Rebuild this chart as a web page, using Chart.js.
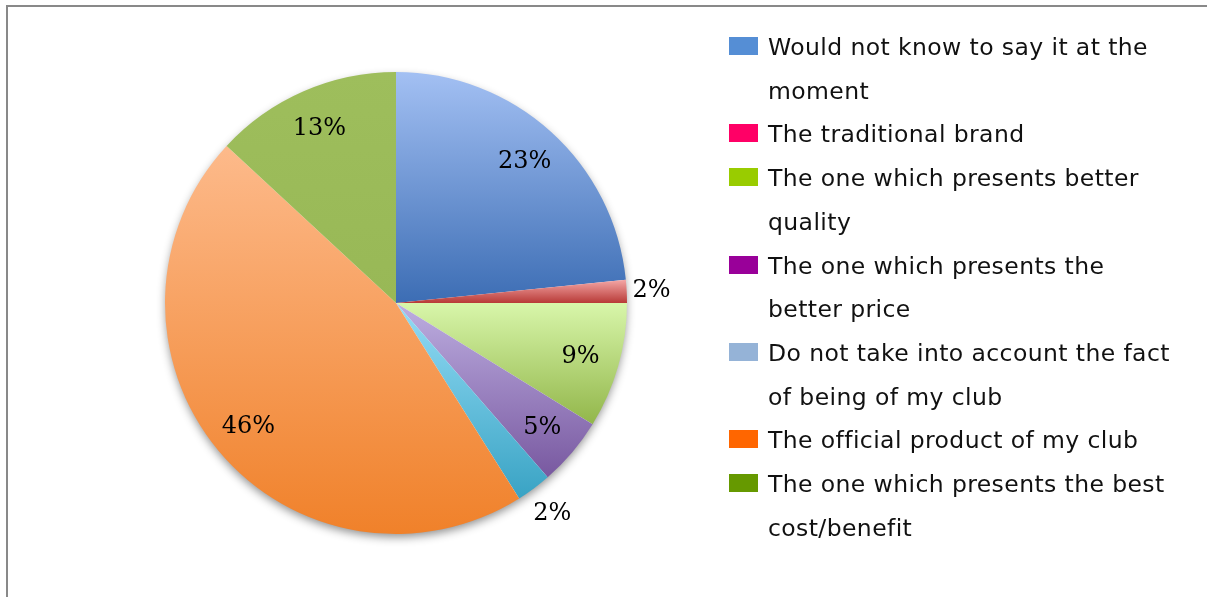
<!DOCTYPE html>
<html>
<head>
<meta charset="utf-8">
<script src="https://cdn.jsdelivr.net/npm/chart.js@4.4.1/dist/chart.umd.min.js"></script>
<style>
  html, body { margin: 0; padding: 0; background: #fff; }
  body { width: 1207px; height: 597px; position: relative; overflow: hidden; }
  #frame { position: absolute; left: 6px; top: 5px; width: 1300px; height: 700px; border-left: 2px solid #898989; border-top: 2px solid #898989; box-sizing: border-box; }
  #wrap { position: absolute; left: 0; top: 0; width: 1207px; height: 597px; }
  #legend { position: absolute; left: 729px; top: 26px; font-family: "DejaVu Sans", Verdana, sans-serif; font-size: 23.5px; letter-spacing: 0.4px; line-height: 43.7px; color: #111; white-space: nowrap; }
  .item { display: flex; align-items: flex-start; }
  .box { width: 29px; height: 18px; margin-top: 11px; margin-right: 10px; flex: none; }
</style>
</head>
<body>
<div id="frame"></div>
<div id="wrap"><canvas id="c" width="1207" height="597"></canvas></div>
<div id="legend"></div>
<script>
const categories = [
  ["Would not know to say it at the", "moment"],
  ["The traditional brand"],
  ["The one which presents better", "quality"],
  ["The one which presents the", "better price"],
  ["Do not take into account the fact", "of being of my club"],
  ["The official product of my club"],
  ["The one which presents the best", "cost/benefit"]
];
// shares read from the slice boundaries (labels show them rounded)
const values = [23.4, 1.6, 8.8, 4.8, 2.45, 45.85, 13.1];
const legendColors = ["#558ed5", "#ff0066", "#99cc00", "#990099", "#95b3d7", "#ff6600", "#669900"];
const sliceTopColors = ["#a3c0f3", "#f4a7a6", "#d8f6aa", "#bdaee0", "#94dcf5", "#fdba8b", "#9ebe5c"];
const sliceBottomColors = ["#3c6db4", "#b83a37", "#92b64a", "#7858a0", "#39a3c4", "#f0812a", "#98b856"];

// HTML legend
const legendEl = document.getElementById('legend');
categories.forEach((lines, i) => {
  const item = document.createElement('div');
  item.className = 'item';
  const box = document.createElement('div');
  box.className = 'box';
  box.style.background = legendColors[i];
  const txt = document.createElement('div');
  txt.innerHTML = lines.map(l => l.replace(/&/g, '&amp;').replace(/</g, '&lt;')).join('<br>');
  item.appendChild(box);
  item.appendChild(txt);
  legendEl.appendChild(item);
});

function sliceGradient(ctx) {
  const chart = ctx.chart;
  const i = ctx.dataIndex;
  const ca = chart.chartArea;
  if (!ca || i === undefined) return sliceTopColors[i] || '#ccc';
  const cx = (ca.left + ca.right) / 2, cy = (ca.top + ca.bottom) / 2;
  const r = Math.min(ca.right - ca.left, ca.bottom - ca.top) / 2;
  const total = values.reduce((a, b) => a + b, 0);
  let cum = 0;
  for (let k = 0; k < i; k++) cum += values[k];
  const a0 = cum / total * 2 * Math.PI, a1 = (cum + values[i]) / total * 2 * Math.PI;
  let ys = [cy, cy - r * Math.cos(a0), cy - r * Math.cos(a1)];
  if (a0 <= 0) ys.push(cy - r);
  if (a0 <= Math.PI && a1 >= Math.PI) ys.push(cy + r);
  const y0 = Math.min(...ys), y1 = Math.max(...ys);
  const g = chart.ctx.createLinearGradient(0, y0, 0, y1);
  g.addColorStop(0, sliceTopColors[i]);
  g.addColorStop(1, sliceBottomColors[i]);
  return g;
}

const shadowPlugin = {
  id: 'pieShadow',
  beforeDatasetsDraw(chart) {
    const arc = chart.getDatasetMeta(0).data[0];
    if (!arc) return;
    const c = chart.ctx;
    c.save();
    c.shadowColor = 'rgba(0,0,0,0.45)';
    c.shadowBlur = 10;
    c.shadowOffsetY = 4;
    c.beginPath();
    c.arc(arc.x, arc.y, arc.outerRadius - 1, 0, Math.PI * 2);
    c.fillStyle = '#ffffff';
    c.fill();
    c.restore();
  }
};

const labelPlugin = {
  id: 'pctLabels',
  afterDatasetsDraw(chart) {
    const meta = chart.getDatasetMeta(0);
    const c = chart.ctx;
    const total = values.reduce((a, b) => a + b, 0);
    c.save();
    c.font = '24px "DejaVu Serif", "Liberation Serif", serif';
    c.fillStyle = '#000';
    c.textAlign = 'center';
    c.textBaseline = 'middle';
    meta.data.forEach((arc, i) => {
      const mid = (arc.startAngle + arc.endAngle) / 2;
      const dx = Math.cos(mid), dy = Math.sin(mid);
      const text = Math.round(values[i] / total * 100) + '%';
      let x, y;
      if (values[i] / total < 0.03) {
        const w = c.measureText(text).width;
        const hw = w / 2, hh = 10;
        const d = arc.outerRadius + 5 + 8 * Math.abs(dy) + hw * Math.abs(dx) + hh * Math.abs(dy);
        x = arc.x + dx * d; y = arc.y + dy * d;
      } else {
        const d = arc.outerRadius * 0.83;
        x = arc.x + dx * d; y = arc.y + dy * d;
      }
      c.fillText(text, x, y + 1);
    });
    c.restore();
  }
};

new Chart(document.getElementById('c'), {
  type: 'pie',
  data: {
    labels: categories,
    datasets: [{
      data: values,
      backgroundColor: sliceGradient,
      borderWidth: 0
    }]
  },
  options: {
    responsive: false,
    animation: false,
    layout: { padding: { left: 165, top: 72, right: 580, bottom: 63 } },
    plugins: {
      legend: { display: false },
      tooltip: { enabled: false }
    }
  },
  plugins: [shadowPlugin, labelPlugin]
});
</script>
</body>
</html>
